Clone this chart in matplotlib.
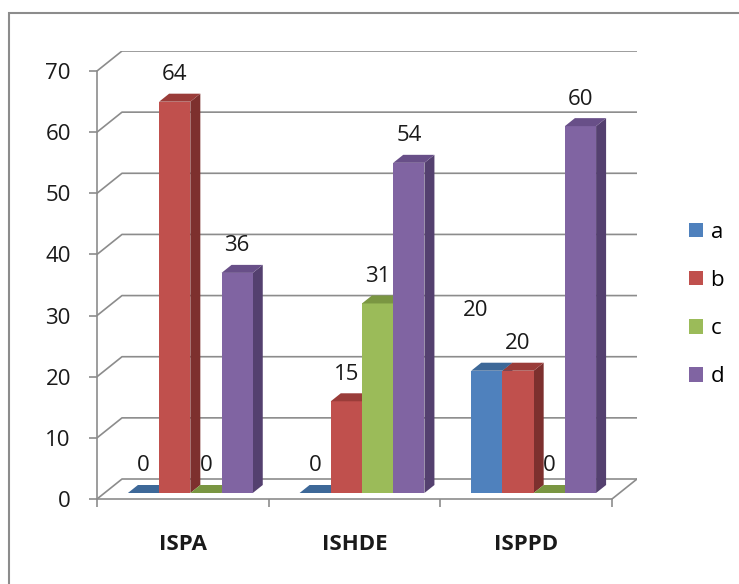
import matplotlib
matplotlib.use('Agg')
import matplotlib.pyplot as plt
from matplotlib.patches import Polygon, Rectangle, Patch

# data
categories = ['ISPA', 'ISHDE', 'ISPPD']
series_names = ['a', 'b', 'c', 'd']
a_vals = [0, 0, 20]
b_vals = [64, 15, 20]
c_vals = [0, 31, 0]
d_vals = [36, 54, 60]
y_ticks = [0, 10, 20, 30, 40, 50, 60, 70]

# excel 2007 palette: front, top, side
front_cols = ['#4F81BD', '#C0504D', '#9BBB59', '#8064A2']
top_cols = ['#3D6898', '#9A3C39', '#7A9642', '#684F88']
side_cols = ['#385D8A', '#7D302E', '#6E8A3B', '#54406F']
grid_col = '#8C8C8C'

plt.rcParams['font.family'] = ['Open Sans', 'DejaVu Sans']

W, H = 739, 584
fig = plt.figure(figsize=(W / 100, H / 100), dpi=100)
fig.patch.set_facecolor('white')

# depth offset of the back wall in data units
DX = 0.1456
DY = 3.27
ncat = len(categories)
ymax = y_ticks[-1]

ax = fig.add_axes([97 / W, (H - 499) / H, 540 / W, 448 / H])
ax.set_xlim(0, ncat + DX)
ax.set_ylim(0, ymax + DY)
ax.patch.set_alpha(0)
for s in ['top', 'right']:
    ax.spines[s].set_visible(False)
for s in ['left', 'bottom']:
    ax.spines[s].set_color(grid_col)
    ax.spines[s].set_linewidth(1.2)
    ax.spines[s].set_zorder(50)
ax.spines['left'].set_bounds(0, ymax)
ax.spines['bottom'].set_bounds(0, ncat)

# back wall gridlines + left wall diagonals
for v in y_ticks:
    ax.plot([0, DX, ncat + DX], [v, v + DY, v + DY], color=grid_col, lw=1.2, zorder=1)
ax.plot([ncat, ncat + DX], [0, DY], color=grid_col, lw=1.2, zorder=1)

# bars
all_vals = [a_vals, b_vals, c_vals, d_vals]
nser = len(all_vals)
w = 1 / (nser + 1.5)
z0, z1 = 0.3, 0.7
label_shift = {(2, 0): (-8, 43)}
z = 10
for i in range(ncat):
    for j, vals in enumerate(all_vals):
        v = vals[i]
        x0 = i + w * (0.75 + j)
        x1 = x0 + w
        fx0, fx1 = x0 + z0 * DX, x1 + z0 * DX
        bx0, bx1 = x0 + z1 * DX, x1 + z1 * DX
        fy, by = z0 * DY, z1 * DY
        side = [(fx1, fy), (bx1, by), (bx1, v + by), (fx1, v + fy)]
        front = [(fx0, fy), (fx1, fy), (fx1, v + fy), (fx0, v + fy)]
        top = [(fx0, v + fy), (fx1, v + fy), (bx1, v + by), (bx0, v + by)]
        ax.add_patch(Polygon(side, closed=True, fc=side_cols[j], ec='none', zorder=z))
        ax.add_patch(Polygon(front, closed=True, fc=front_cols[j], ec='none', zorder=z + 1))
        ax.add_patch(Polygon(top, closed=True, fc=top_cols[j], ec='none', zorder=z + 2))
        z += 3
        off = label_shift.get((i, j), (0, 19.5))
        ax.annotate(str(v), xy=((fx0 + fx1) / 2, v + fy), xytext=off,
                    textcoords='offset points', ha='center', va='center',
                    fontsize=16, color='#1a1a1a', zorder=200)

ax.set_yticks(y_ticks)
ax.tick_params(axis='y', direction='out', length=5.8, width=1.2, color=grid_col,
               pad=13, labelsize=16, labelcolor='#1a1a1a')
ax.set_xticks(range(ncat + 1))
ax.set_xticklabels([''] * (ncat + 1))
ax.set_xticks([k + 0.5 for k in range(ncat)], minor=True)
ax.set_xticklabels(categories, minor=True, fontsize=16, fontweight='bold', color='#1a1a1a')
ax.tick_params(axis='x', which='major', direction='out', length=5.5, width=1.2, color=grid_col)
ax.tick_params(axis='x', which='minor', length=0, pad=25)

handles = [Patch(facecolor=c, edgecolor='none') for c in front_cols]
fig.legend(handles, series_names, loc='upper left', bbox_to_anchor=(689 / W, 1 - 222 / H),
           frameon=False, fontsize=16, handlelength=0.62, handleheight=0.62,
           handletextpad=0.35, labelspacing=1.22, borderpad=0, borderaxespad=0)

# chart area border
fig.add_artist(Rectangle((9 / W, -0.1), 1.0, (H - 13) / H + 0.1, transform=fig.transFigure,
                         fill=False, edgecolor=grid_col, lw=1.5))

fig.savefig('out.png', dpi=100)
